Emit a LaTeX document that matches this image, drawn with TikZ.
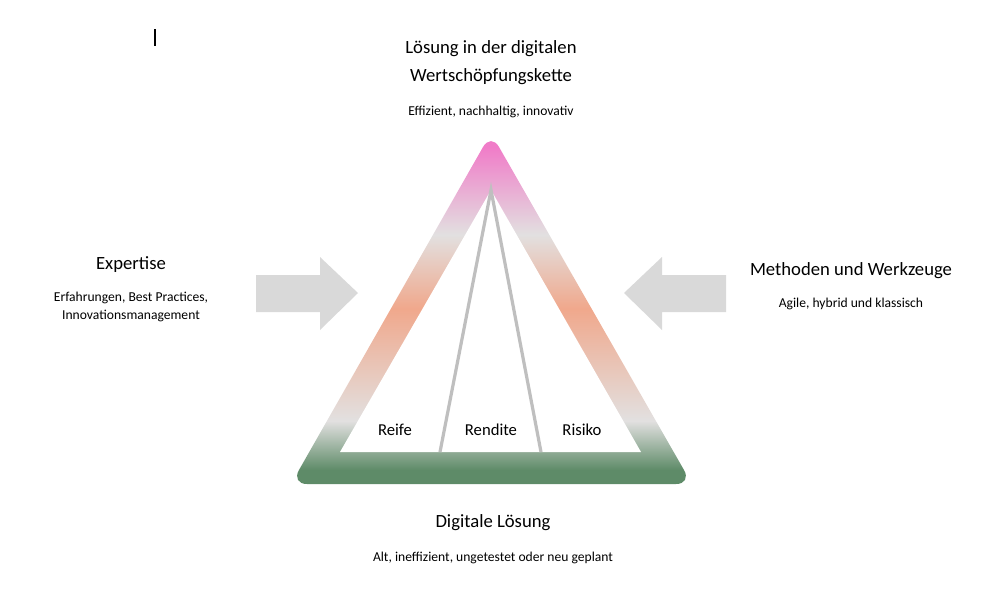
\documentclass[tikz,border=0pt]{standalone}
\usepackage{fontspec}
\setmainfont{Carlito}
\definecolor{arr}{HTML}{D9D9D9}
\definecolor{gr}{HTML}{5E8B68}
\definecolor{pk}{HTML}{F07CC8}
\definecolor{og}{HTML}{F0A88C}
\definecolor{lg}{HTML}{E2E0E0}
\pgfdeclareverticalshading{tri}{100bp}{color(0bp)=(gr); color(27bp)=(gr); color(34bp)=(lg); color(50bp)=(og); color(60.5bp)=(lg); color(73bp)=(pk); color(100bp)=(pk)}
\tikzset{title/.style={font=\fontsize{14pt}{16pt}\selectfont},
 sub/.style={font=\fontsize{10.2pt}{12pt}\selectfont},
 lab/.style={font=\fontsize{12.5pt}{14pt}\selectfont},
 arrowshape/.style={fill=arr,draw=none}}
\begin{document}
\begin{tikzpicture}[x=0.75pt,y=-0.75pt]
\useasboundingbox (0,0) rectangle (1000,600);
\draw[line width=0.8pt] (155,29) -- (155,46);
\shade[shading=tri,rounded corners=12pt] (491,133) -- (692,484) -- (291,484) -- cycle;
\fill[white] (491,190) -- (641,452) -- (340,452) -- cycle;
\coordinate (apex) at (491,190);
\coordinate (bl) at (440,452);
\coordinate (br) at (541,452);
\draw[color=black!25,line width=2.4pt] (bl) -- (apex) -- (br);
\fill[arrowshape] (256,275) -- (320,275) -- (320,257) -- (358,293) -- (320,330) -- (320,312) -- (256,312) -- cycle;
\fill[arrowshape] (726,275) -- (662,275) -- (662,257) -- (624,293) -- (662,330) -- (662,312) -- (726,312) -- cycle;
\node[title] (t1) at (491,49) {Lösung in der digitalen};
\node[title] (t2) at (491,77) {Wertschöpfungskette};
\node[sub] (t3) at (491,112) {Effizient, nachhaltig, innovativ};
\node[title] (l1) at (131,265) {Expertise};
\node[sub] (l2) at (131,298) {Erfahrungen, Best Practices,};
\node[sub] (l3) at (131,316) {Innovationsmanagement};
\node[title] (r1) at (851,271) {Methoden und Werkzeuge};
\node[sub] (r2) at (851,304) {Agile, hybrid und klassisch};
\node[title] (b1) at (493,523) {Digitale Lösung};
\node[sub] (b2) at (493,558) {Alt, ineffizient, ungetestet oder neu geplant};
\node[lab] (re) at (395,430) {Reife};
\node[lab] (rd) at (491,430) {Rendite};
\node[lab] (ri) at (582,430) {Risiko};
\end{tikzpicture}
\end{document}
